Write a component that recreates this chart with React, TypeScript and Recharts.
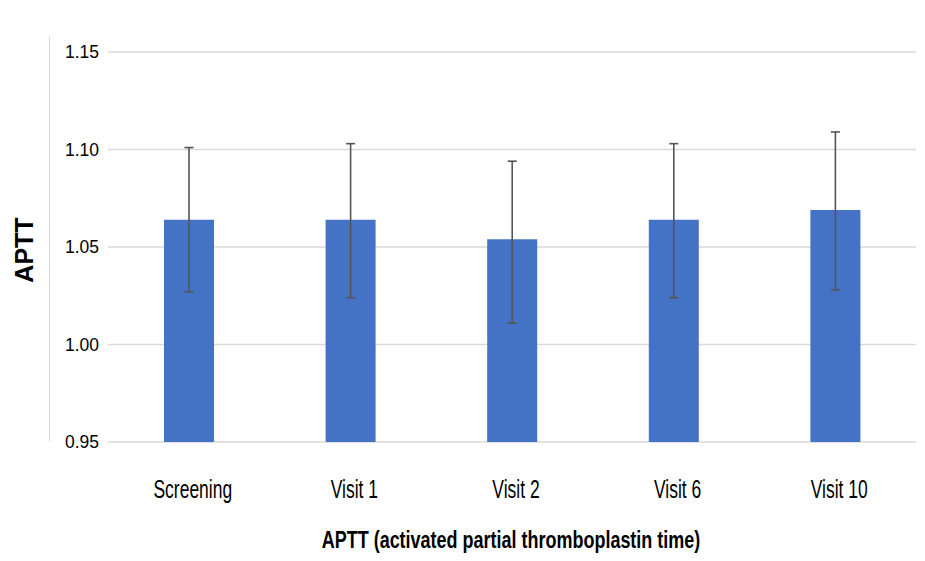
import React from "react";
import { BarChart, Bar, XAxis, YAxis, CartesianGrid, ErrorBar } from "recharts";

const categories = ["Screening", "Visit 1", "Visit 2", "Visit 6", "Visit 10"];
const means = [1.064, 1.064, 1.054, 1.064, 1.069];
const lows = [1.027, 1.024, 1.011, 1.024, 1.028];
const highs = [1.101, 1.103, 1.094, 1.103, 1.109];
const yTicks = [0.95, 1.0, 1.05, 1.1, 1.15];

const data = categories.map((name, i) => ({
  name,
  value: means[i],
  err: [means[i] - lows[i], highs[i] - means[i]],
}));

const sans = "'Liberation Sans', Arial, sans-serif";

const XTick = (props: any) => {
  const { x, y, payload } = props;
  return (
    <g transform={`translate(${x + 4},${y + 56})`}>
      <text
        transform="scale(0.7,1)"
        x={0}
        y={0}
        textAnchor="middle"
        fill="#000"
        fontSize={25}
        fontFamily={sans}
      >
        {payload.value}
      </text>
    </g>
  );
};

export default function App() {
  return (
    <div style={{ position: "absolute", left: 0, top: 0, width: 925, height: 561, background: "#fff" }}>
      <div
        style={{
          position: "absolute",
          left: 49,
          top: 37,
          width: 0,
          height: 405,
          borderLeft: "1.5px solid #d9d9d9",
        }}
      />
      <div
        style={{
          position: "absolute",
          left: 24,
          top: 250,
          transform: "translate(-50%, -50%) rotate(-90deg)",
          fontFamily: sans,
          fontWeight: "bold",
          fontSize: 25,
          lineHeight: "25px",
          color: "#000",
          whiteSpace: "nowrap",
        }}
      >
        APTT
      </div>
      <div
        style={{
          position: "absolute",
          left: 511,
          top: 529,
          transform: "translateX(-50%) scaleX(0.765)",
          fontFamily: sans,
          fontWeight: "bold",
          fontSize: 23.5,
          lineHeight: "23.5px",
          color: "#000",
          whiteSpace: "nowrap",
        }}
      >
        APTT (activated partial thromboplastin time)
      </div>
      <BarChart
        width={925}
        height={561}
        data={data}
        margin={{ top: 52, right: 9, left: 48, bottom: 0 }}
        barSize={50}
      >
        <CartesianGrid vertical={false} stroke="#d9d9d9" strokeWidth={1.5} />
        <XAxis
          dataKey="name"
          axisLine={false}
          tickLine={false}
          tickSize={0}
          tickMargin={0}
          height={119}
          interval={0}
          tick={<XTick />}
        />
        <YAxis
          domain={[0.95, 1.15]}
          ticks={yTicks}
          allowDataOverflow
          axisLine={false}
          tickLine={false}
          tickSize={0}
          tickMargin={9}
          width={60}
          tickFormatter={(v: number) => v.toFixed(2)}
          tick={{ fill: "#000", fontSize: 17.5, fontFamily: sans }}
        />
        <Bar dataKey="value" fill="#4472C4" isAnimationActive={false}>
          <ErrorBar dataKey="err" width={4.5} stroke="#555555" strokeWidth={1.6} />
        </Bar>
      </BarChart>
    </div>
  );
}
